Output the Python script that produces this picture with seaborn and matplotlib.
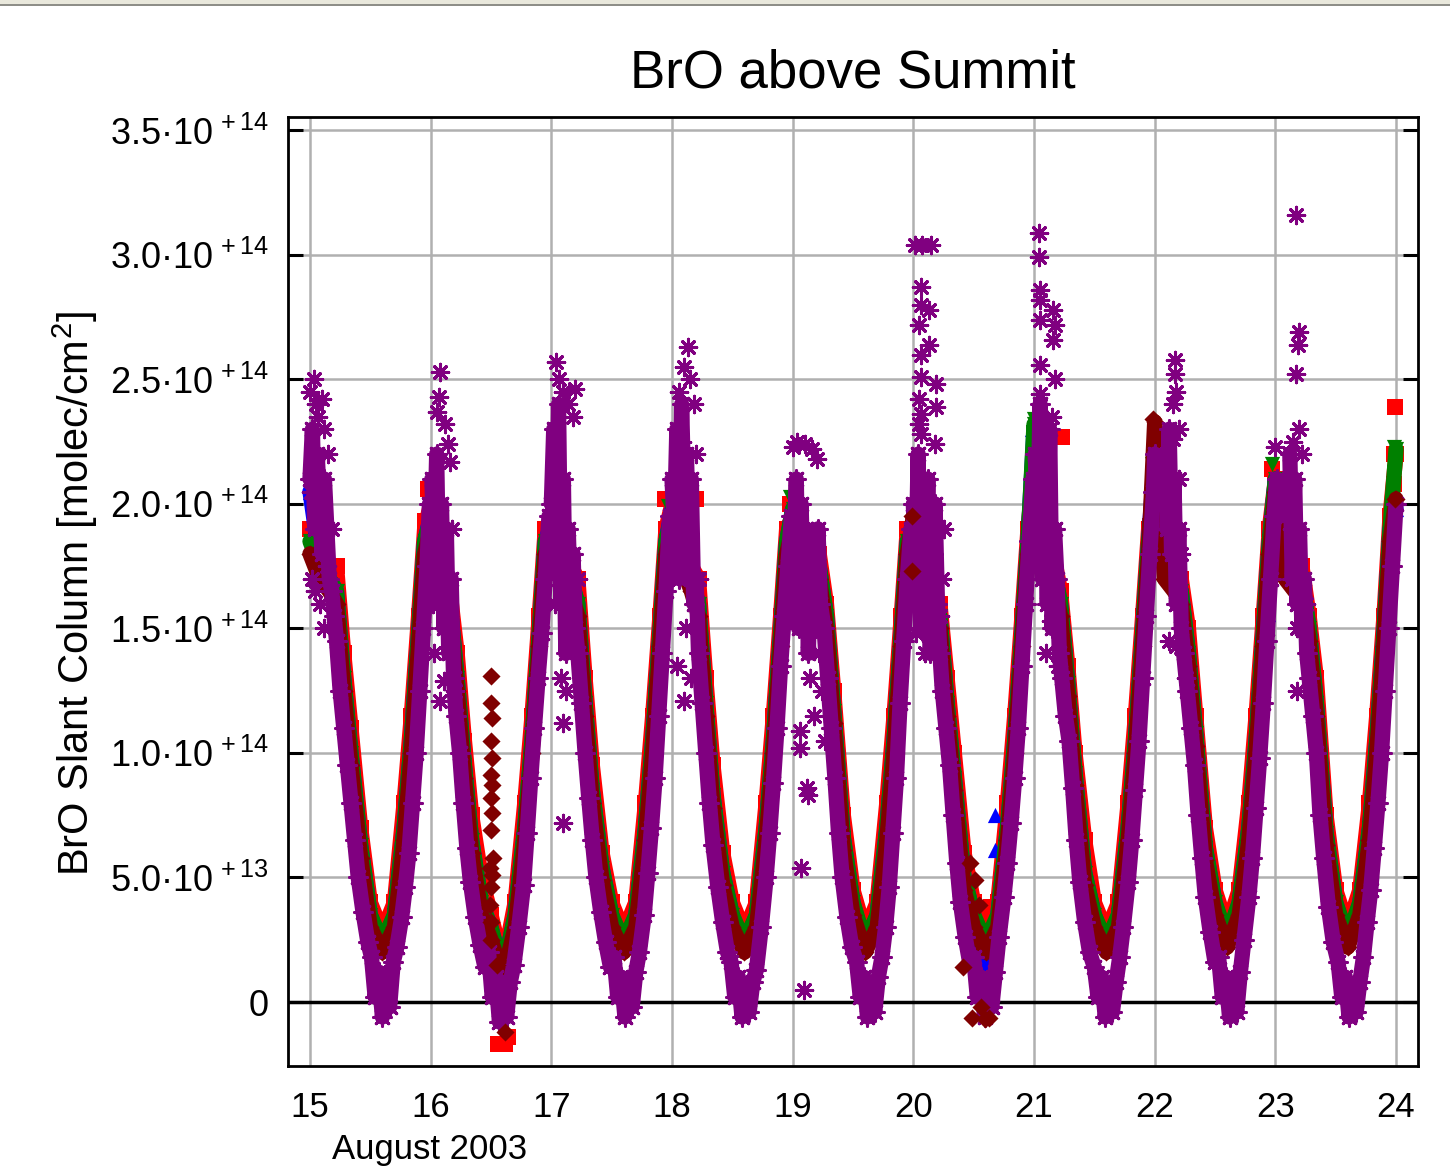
import matplotlib
matplotlib.use('Agg')
import matplotlib.pyplot as plt
from matplotlib.patches import Rectangle
import pandas as pd
import seaborn as sns

# slant columns in units of 1e13 molec/cm2, time in days of August 2003
purple_aug15 = [(15.00, 21), (15.02, 23), (15.04, 19), (15.06, 22), (15.08, 20), (15.10, 18), (15.12, 21),
                (15.14, 19), (15.16, 17), (15.18, 16.5), (15.20, 15.5), (15.22, 14.5), (15.25, 12.5), (15.28, 11),
                (15.31, 9.5), (15.34, 8), (15.37, 6.5), (15.40, 5), (15.44, 3.6), (15.48, 2.4), (15.51, 1.8),
                (15.54, 0.2), (15.57, 1.2), (15.60, -0.6), (15.63, 0.6), (15.66, -0.2), (15.69, 1.6), (15.72, 2.2),
                (15.76, 3.4), (15.79, 4.6), (15.82, 6), (15.85, 8), (15.88, 10), (15.91, 12.5), (15.94, 15),
                (15.97, 17.5), (15.99, 20)]
purple_aug16 = [(16.01, 21), (16.03, 18), (16.05, 22), (16.07, 16), (16.09, 20), (16.11, 15), (16.13, 19),
                (16.15, 14), (16.17, 17), (16.19, 13), (16.21, 11.5), (16.24, 10), (16.27, 8), (16.30, 6.2),
                (16.33, 4.8), (16.37, 3.4), (16.41, 2.3), (16.45, 1.4), (16.48, 2.0), (16.51, 0.2), (16.54, 1.0),
                (16.57, -0.8), (16.60, 0.6), (16.63, -0.6), (16.66, 0.8), (16.69, 1.5), (16.73, 3), (16.77, 4.7),
                (16.80, 6.8), (16.83, 9), (16.86, 11), (16.89, 13), (16.92, 14.8), (16.95, 17), (16.98, 19.5)]
purple_aug17 = [(17.00, 20), (17.02, 23), (17.04, 18), (17.06, 24), (17.08, 16), (17.10, 21), (17.12, 14),
                (17.14, 19), (17.16, 16), (17.18, 18), (17.20, 15), (17.22, 14), (17.25, 12), (17.28, 10),
                (17.31, 8.2), (17.34, 6.5), (17.37, 5), (17.41, 3.6), (17.45, 2.4), (17.49, 1.4), (17.52, 1.8),
                (17.55, 0.2), (17.58, 1.0), (17.61, -0.6), (17.64, 0.6), (17.67, -0.2), (17.70, 1.2), (17.73, 2),
                (17.77, 3.5), (17.80, 5.2), (17.83, 7), (17.86, 9), (17.89, 11.5), (17.92, 14), (17.95, 16.5),
                (17.98, 19.5)]
purple_aug18 = [(18.00, 21), (18.02, 19), (18.04, 23), (18.06, 17), (18.08, 24), (18.10, 20), (18.12, 22),
                (18.14, 18), (18.16, 21), (18.18, 16), (18.20, 17), (18.22, 14), (18.25, 12), (18.28, 10),
                (18.31, 8), (18.34, 6.3), (18.38, 4.6), (18.42, 3.2), (18.46, 2), (18.49, 1.6), (18.52, 0.2),
                (18.55, 1.0), (18.58, -0.6), (18.61, 0.6), (18.64, -0.4), (18.67, 0.8), (18.70, 1.3), (18.74, 3),
                (18.78, 5), (18.81, 6.8), (18.84, 8.8), (18.87, 11), (18.90, 13.5), (18.93, 15.5), (18.96, 17.5),
                (18.99, 19.5)]
purple_aug19 = [(19.01, 18), (19.03, 21), (19.05, 15), (19.07, 20), (19.09, 16), (19.11, 19), (19.13, 14),
                (19.15, 18), (19.17, 17), (19.19, 15), (19.21, 19), (19.23, 16), (19.26, 15), (19.29, 13),
                (19.32, 11), (19.35, 9), (19.38, 6.8), (19.41, 5), (19.45, 3.4), (19.49, 2.2), (19.53, 1.6),
                (19.56, 0.2), (19.59, 1.0), (19.62, -0.6), (19.65, 0.6), (19.68, -0.4), (19.71, 1.0), (19.74, 1.8),
                (19.77, 3), (19.80, 4.6), (19.83, 6.8), (19.86, 9), (19.89, 12), (19.92, 14.5), (19.95, 17),
                (19.98, 19)]
purple_aug20 = [(20.00, 20), (20.02, 17), (20.04, 22), (20.06, 15), (20.08, 19), (20.10, 16), (20.12, 21),
                (20.14, 14), (20.16, 18), (20.18, 20), (20.20, 16), (20.22, 14), (20.24, 12.5), (20.27, 11),
                (20.30, 9.5), (20.33, 7.5), (20.36, 5.6), (20.39, 4), (20.43, 2.6), (20.47, 1.5), (20.50, 1.8),
                (20.53, 0.2), (20.56, 1.0), (20.59, -0.6), (20.62, 0.6), (20.65, -0.2), (20.68, 1.2), (20.71, 2.6),
                (20.75, 4.2), (20.78, 5.6), (20.81, 7.2), (20.84, 9), (20.87, 11), (20.90, 13.5), (20.93, 16),
                (20.96, 18.5), (20.99, 21)]
purple_aug21 = [(21.01, 22), (21.03, 19), (21.05, 24), (21.07, 17), (21.09, 21), (21.11, 16), (21.13, 23),
                (21.15, 15), (21.17, 19), (21.19, 17), (21.21, 14), (21.23, 13), (21.26, 11.5), (21.29, 10.5),
                (21.32, 8.6), (21.35, 6.5), (21.38, 4.8), (21.42, 3.2), (21.46, 2), (21.50, 1.4), (21.53, 0.2),
                (21.56, 1.0), (21.59, -0.6), (21.62, 0.6), (21.65, -0.4), (21.68, 0.8), (21.71, 1.8), (21.74, 3),
                (21.78, 4.8), (21.81, 6.5), (21.84, 8.5), (21.87, 10.5), (21.90, 13), (21.93, 15.5), (21.96, 18),
                (21.99, 20.5), (22.00, 22), (22.02, 20)]
purple_aug22 = [(22.10, 19), (22.12, 23), (22.14, 18), (22.16, 21), (22.18, 16), (22.20, 19), (22.22, 15),
                (22.24, 14), (22.27, 12.5), (22.30, 11), (22.33, 9.5), (22.36, 7.5), (22.39, 5.8), (22.42, 4.2),
                (22.46, 2.8), (22.50, 1.6), (22.53, 1.8), (22.56, 0.2), (22.59, 1.0), (22.62, -0.6), (22.65, 0.6),
                (22.68, -0.4), (22.71, 1.2), (22.74, 2.5), (22.78, 4.2), (22.81, 5.8), (22.84, 7.8), (22.87, 9.8),
                (22.90, 12), (22.93, 14.5), (22.96, 17), (22.99, 19.5), (23.01, 21), (23.03, 19.5)]
purple_aug23 = [(23.12, 22), (23.14, 17), (23.16, 21), (23.18, 16), (23.20, 19), (23.22, 15), (23.24, 17),
                (23.26, 14), (23.28, 13), (23.31, 11.5), (23.34, 10), (23.37, 7.5), (23.40, 5.8), (23.44, 3.8),
                (23.48, 2.4), (23.52, 1.6), (23.55, 0.2), (23.58, 1.0), (23.61, -0.6), (23.64, 0.6), (23.67, -0.4),
                (23.70, 0.8), (23.73, 1.8), (23.76, 3.2), (23.79, 4.5), (23.82, 6.2), (23.85, 8), (23.88, 10),
                (23.91, 12.5), (23.94, 15), (23.97, 17.5), (24.00, 20)]
purple_outliers = [(15.00, 24.5), (15.03, 25), (15.05, 24), (15.07, 23.5), (15.02, 17), (15.04, 16.5), (15.10, 24.2),
                   (15.12, 23), (15.14, 17.5), (15.15, 22), (15.18, 19), (15.01, 20.5), (15.08, 16), (15.12, 15),
                   (16.08, 25.3), (16.07, 24.3), (16.05, 23.7), (16.12, 23.2), (16.14, 22.4), (16.16, 21.7),
                   (16.11, 12.9), (16.08, 12.1), (16.03, 14), (16.14, 14), (16.20, 12.5), (16.18, 19), (16.02, 16),
                   (17.04, 25.7), (17.06, 25), (17.10, 24.5), (17.14, 24), (17.18, 23.5), (17.20, 24.6), (17.02, 23),
                   (17.08, 13), (17.12, 12.5), (17.10, 11.2), (17.10, 7.2), (17.16, 14.5), (17.22, 17), (17.03, 16),
                   (18.13, 26.3), (18.10, 25.5), (18.15, 25), (18.06, 24.5), (18.18, 24), (18.08, 22.5),
                   (18.20, 22), (18.10, 12.1), (18.04, 13.5), (18.16, 13), (18.22, 17), (18.12, 15),
                   (19.00, 22.3), (19.04, 22.5), (19.10, 22.4), (19.16, 22.2), (19.20, 21.8), (19.06, 10.9),
                   (19.06, 10.2), (19.12, 8.6), (19.13, 8.3), (19.07, 5.4), (19.09, 0.5), (19.14, 13), (19.18, 11.5),
                   (19.22, 14), (19.24, 12.5), (19.27, 10.5),
                   (20.01, 30.4), (20.07, 30.4), (20.15, 30.4), (20.06, 28.7), (20.06, 28), (20.13, 27.8),
                   (20.05, 27.2), (20.13, 26.4), (20.06, 26), (20.06, 25.1), (20.19, 24.8), (20.05, 24.2),
                   (20.19, 23.9), (20.06, 23.6), (20.05, 23.2), (20.06, 22.8), (20.06, 20.5), (20.18, 22.4),
                   (20.10, 14), (20.15, 14.5), (20.22, 15.5), (20.25, 19), (20.24, 17), (20.02, 14.8),
                   (21.04, 30.9), (21.04, 29.9), (21.05, 28.6), (21.05, 28.2), (21.16, 27.8), (21.05, 27.4),
                   (21.17, 27.2), (21.16, 26.6), (21.05, 25.6), (21.17, 25), (21.05, 24.4), (21.15, 23.5),
                   (21.10, 14), (21.14, 15.3), (21.17, 16.9), (21.20, 13.5), (21.08, 21),
                   (22.17, 25.8), (22.17, 25.2), (22.18, 24.5), (22.15, 24), (22.15, 22.6), (22.20, 21),
                   (22.22, 18), (22.12, 14.5), (22.18, 14.3), (22.26, 13), (22.20, 23),
                   (23.17, 31.6), (23.20, 26.9), (23.19, 26.4), (23.17, 25.2), (23.18, 15), (23.18, 12.5),
                   (23.15, 22.5), (23.20, 23), (23.22, 22), (23.14, 19), (23.25, 16), (23.00, 22.3)]

# the other four elevation series share one time grid
aux_t = [15.00, 15.08, 15.16, 15.22, 15.28, 15.34, 15.42, 15.50, 15.60, 15.70, 15.78, 15.84, 15.90, 15.95,
         16.00, 16.08, 16.16, 16.22, 16.28, 16.34, 16.42, 16.50, 16.60, 16.70, 16.78, 16.84, 16.90, 16.95,
         17.00, 17.08, 17.16, 17.22, 17.28, 17.34, 17.42, 17.50, 17.60, 17.70, 17.78, 17.84, 17.90, 17.95,
         18.00, 18.08, 18.16, 18.22, 18.28, 18.34, 18.42, 18.50, 18.60, 18.70, 18.78, 18.84, 18.90, 18.95,
         19.00, 19.08, 19.16, 19.22, 19.28, 19.34, 19.42, 19.50, 19.60, 19.70, 19.78, 19.84, 19.90, 19.95,
         20.00, 20.08, 20.16, 20.22, 20.28, 20.34, 20.42, 20.50, 20.60, 20.70, 20.78, 20.84, 20.90, 20.95,
         21.00, 21.08, 21.16, 21.22, 21.28, 21.34, 21.42, 21.50, 21.60, 21.70, 21.78, 21.84, 21.90, 21.95,
         22.00, 22.08, 22.16, 22.22, 22.28, 22.34, 22.42, 22.50, 22.60, 22.70, 22.78, 22.84, 22.90, 22.95,
         23.00, 23.08, 23.16, 23.22, 23.28, 23.34, 23.42, 23.50, 23.60, 23.70, 23.78, 23.84, 23.90, 23.95,
         24.00]
red_v = [19, 18, 17.5, 17.5, 14, 11, 7, 4, 2.8, 4, 8, 11.5, 15.5, 19,
         20, 18, 16.5, 14, 10.5, 7.5, 5, 3.5, 1.5, 4, 8, 11.5, 15.5, 19,
         19, 18, 17.5, 17, 13, 9.5, 6, 4, 2.8, 4, 8, 11.5, 15.5, 19,
         20, 18.5, 17.5, 17, 13, 9.5, 6, 4, 2.8, 4, 8, 11.5, 15.5, 19,
         19.5, 18, 17.5, 18, 16, 12.5, 7.5, 4.5, 2.8, 4, 8, 11.5, 15.5, 19,
         18, 17, 16.5, 16, 13, 10, 6, 4, 2.8, 4, 8, 11.5, 15.5, 19,
         21.5, 20, 18, 16.5, 13.5, 10, 6.5, 4, 2.8, 4, 8, 11.5, 15.5, 19,
         19.5, 18, 17.5, 17, 15, 11.5, 7, 4.5, 3, 4.5, 8, 11.5, 15.5, 19,
         21, 18, 17.5, 17.5, 15.5, 13, 7.5, 4.5, 3, 4.5, 8, 11.5, 15.5, 19.5,
         22]
blue_v = [20.5, 17.8, 17, 16.5, 13, 10, 6.3, 3.5, 2.2, 3.5, 7, 10.5, 14.8, 18.5,
          19.5, 17.8, 16, 13, 9.5, 6.5, 4, 3, 1.2, 3.5, 7, 10.5, 14.8, 18.5,
          19.2, 17.8, 17, 16, 12, 8.5, 5.4, 3.5, 2.2, 3.5, 7, 10.5, 14.8, 18.5,
          19.8, 18.2, 17, 16, 12, 8.3, 5.2, 3.5, 2.2, 3.5, 7, 10.5, 14.8, 18.5,
          19.8, 17.8, 17, 17.5, 15.5, 11.7, 6.6, 4, 2.2, 3.5, 7, 10.5, 14.8, 18.5,
          18.5, 16.8, 16, 15.5, 12, 9, 5, 3.5, 1.0, 3.5, 7, 10.5, 14.8, 18.5,
          23, 19.8, 17.5, 16, 12.8, 9.2, 5.2, 3.5, 2.2, 3.5, 7, 10.5, 14.8, 18.5,
          22, 17.8, 17, 16.5, 14, 10.8, 6.2, 4, 2.4, 4, 7, 10.5, 14.8, 18.5,
          21, 17.8, 17, 17, 15, 12, 6.8, 4, 2.4, 4, 7, 10.5, 14.8, 19,
          19.8]
green_v = [18.5, 17.5, 17, 16.5, 13, 10, 6.3, 3.5, 2.4, 3.5, 7, 10.5, 14.8, 18.5,
           19.4, 17.5, 16, 13, 9.5, 6.5, 4, 3, 1.2, 3.5, 7, 10.5, 14.8, 18.5,
           18.6, 17.5, 17, 16, 12, 8.5, 5.4, 3.5, 2.4, 3.5, 7, 10.5, 14.8, 18.5,
           19.6, 18, 17, 16, 12, 8.3, 5.2, 3.5, 2.4, 3.5, 7, 10.5, 14.8, 18.5,
           19.8, 17.5, 17, 17.5, 15.5, 11.7, 6.6, 4, 2.4, 3.5, 7, 10.5, 14.8, 18.5,
           18.4, 16.5, 16, 15.5, 12, 9, 5, 3.5, 2.4, 3.5, 7, 10.5, 14.8, 18.5,
           23.2, 19.5, 17.5, 16, 12.8, 9.2, 5.2, 3.5, 2.4, 3.5, 7, 10.5, 14.8, 18.5,
           21.4, 17.5, 17, 16.5, 14, 10.8, 6.2, 4, 2.6, 4, 7, 10.5, 14.8, 18.5,
           21, 17.5, 17, 17, 15, 12, 6.8, 4, 2.6, 4, 7, 10.5, 14.8, 19,
           22.2]
darkred_v = [18, 17, 16.5, 16, 12.5, 9.5, 5.8, 3, 2.0, 3, 6.5, 10, 14.3, 18,
             19, 17, 15.5, 12.5, 9, 6, 3.5, 2.5, 1.0, 3, 6.5, 10, 14.3, 18,
             18, 17, 16.5, 15.5, 11.5, 8, 4.9, 3, 2.0, 3, 6.5, 10, 14.3, 18,
             19, 17.5, 16.5, 15.5, 11.5, 7.8, 4.7, 3, 2.0, 3, 6.5, 10, 14.3, 18,
             19, 17, 16.5, 17, 15, 11.2, 6.1, 3.5, 2.0, 3, 6.5, 10, 14.3, 18,
             19.5, 16, 15.5, 15, 11.5, 8.5, 4.5, 3, 2.0, 3, 6.5, 10, 14.3, 18,
             20, 19, 17, 15.5, 12.3, 8.7, 4.7, 3, 2.0, 3, 6.5, 10, 14.3, 18,
             23.3, 17, 16.5, 16, 13.5, 10.3, 5.7, 3.5, 2.2, 3.5, 6.5, 10, 14.3, 18,
             20.5, 17, 16.5, 16.5, 14.5, 11.5, 6.3, 3.5, 2.2, 3.5, 6.5, 10, 14.3, 18.5,
             20.2]
red_outliers = [(15.98, 20.6), (15.95, 19.3), (16.97, 18.7), (17.94, 20.2), (18.20, 20.2), (18.98, 20),
                (19.99, 17.5), (19.98, 16.5), (21.01, 21.7), (21.23, 22.7), (21.96, 19.1), (22.97, 21.4),
                (22.94, 17.5), (23.99, 23.9), (23.98, 22), (23.98, 20.8), (20.64, 3.8), (20.62, 2.0),
                (16.56, -1.7), (16.62, -1.7), (16.64, -1.4)]
green_outliers = [(21.00, 23.4), (19.99, 18.6), (17.97, 19.9), (18.98, 20.3), (21.98, 21.6), (23.98, 22.3),
                  (23.98, 21.3), (15.97, 18.5), (22.97, 21.6)]
blue_outliers = [(16.99, 19.3), (16.99, 18.0), (19.99, 18.3), (19.99, 17.0), (20.98, 23.0), (20.68, 7.5),
                 (20.68, 6.1), (21.99, 22.1), (22.94, 15.6), (23.99, 19.8), (20.52, 0.8), (18.97, 19.5)]
darkred_outliers = [(16.50, 13.1), (16.50, 12.0), (16.51, 11.4), (16.50, 10.5), (16.51, 9.8), (16.50, 9.1),
                    (16.51, 8.7), (16.50, 8.2), (16.51, 7.6), (16.50, 6.9), (16.52, 5.8), (16.49, 5.4),
                    (16.51, 5.1), (16.50, 4.6), (16.49, 3.9), (16.50, 3.2), (16.50, 2.5), (16.55, 1.5),
                    (16.62, -1.2), (20.47, 5.6), (20.51, 4.9), (20.54, 3.9), (20.41, 1.4), (20.49, -0.65),
                    (20.59, -0.7), (20.63, -0.65), (20.56, -0.2), (19.99, 19.5), (19.99, 17.3), (21.99, 23.4),
                    (23.99, 20.2)]

xticks = [15, 16, 17, 18, 19, 20, 21, 22, 23, 24]
yticks = [0, 0.5e14, 1.0e14, 1.5e14, 2.0e14, 2.5e14, 3.0e14, 3.5e14]
ytick_labels = ['0', '5.0·10$^{\\,+13}$', '1.0·10$^{\\,+14}$', '1.5·10$^{\\,+14}$', '2.0·10$^{\\,+14}$',
                '2.5·10$^{\\,+14}$', '3.0·10$^{\\,+14}$', '3.5·10$^{\\,+14}$']

PURPLE, RED, GREEN, BLUE, DARKRED = '#800080', '#ff0000', '#008000', '#0000ff', '#800000'

sns.set_theme(style='white')
plt.rcParams['font.family'] = ['Liberation Sans', 'DejaVu Sans']
plt.rcParams['mathtext.fontset'] = 'custom'
plt.rcParams['mathtext.rm'] = 'Liberation Sans'
plt.rcParams['mathtext.it'] = 'Liberation Sans'

fig = plt.figure(figsize=(14.5, 11.69), dpi=100)
ax = fig.add_axes([288 / 1450, 1 - 1066 / 1169, 1130 / 1450, 949 / 1169])


def frame(points):
    d = pd.DataFrame(points, columns=['t', 'v'])
    d['v'] = d['v'] * 1e13
    return d


aux = pd.DataFrame({'t': aux_t, 'red': red_v, 'blue': blue_v, 'green': green_v, 'darkred': darkred_v})
for col in ['red', 'blue', 'green', 'darkred']:
    aux[col] = aux[col] * 1e13

styles = [('red', RED, 's', 120, red_outliers, 2),
          ('blue', BLUE, '^', 120, blue_outliers, 3),
          ('green', GREEN, 'v', 120, green_outliers, 4),
          ('darkred', DARKRED, 'D', 85, darkred_outliers, 5)]
for col, color, marker, size, extra, z in styles:
    sns.lineplot(data=aux, x='t', y=col, sort=False, estimator=None, color=color, lw=11,
                 solid_capstyle='round', solid_joinstyle='round', ax=ax, zorder=z)
    sns.scatterplot(data=aux, x='t', y=col, marker=marker, s=size, color=color, linewidth=0, ax=ax, zorder=z)
    sns.scatterplot(data=frame(extra), x='t', y='v', marker=marker, s=size, color=color, linewidth=0,
                    ax=ax, zorder=z + 0.5 if col != 'darkred' else 8)

for day in [purple_aug15, purple_aug16, purple_aug17, purple_aug18, purple_aug19,
            purple_aug20, purple_aug21, purple_aug22, purple_aug23]:
    d = frame(day)
    sns.lineplot(data=d, x='t', y='v', sort=False, estimator=None, color=PURPLE, lw=11,
                 solid_capstyle='round', solid_joinstyle='round', ax=ax, zorder=6)
    sns.scatterplot(data=d, x='t', y='v', marker=(8, 2, 0), s=160, color=PURPLE, edgecolor=PURPLE,
                    linewidth=2.2, ax=ax, zorder=7)
sns.scatterplot(data=frame(purple_outliers), x='t', y='v', marker=(8, 2, 0), s=140, color=PURPLE,
                edgecolor=PURPLE, linewidth=2.2, ax=ax, zorder=7)

ax.axhline(0, color='black', lw=2.5, zorder=1)
ax.set_xlim(14.818, 24.182)
ax.set_ylim(-0.257e14, 3.554e14)
ax.set_xticks(xticks)
ax.set_xticklabels([str(x) for x in xticks], fontsize=25)
ax.set_yticks(yticks)
ax.set_yticklabels(ytick_labels, fontsize=26)
ax.set_xlabel('')
ax.set_ylabel('')
ax.grid(True, color='#b0b0b0', lw=1.8)
ax.set_axisbelow(True)
ax.tick_params(axis='y', direction='in', length=11, width=2.2, left=True, right=True, pad=14, colors='black')
ax.tick_params(axis='x', length=0, pad=18, colors='black')
for s in ax.spines.values():
    s.set_color('black')
    s.set_linewidth(2)

fig.text(853 / 1450, 1 - 88 / 1169, 'BrO above Summit', ha='center', va='baseline', fontsize=38,
         color='black')
fig.text(75 / 1450, 1 - 593 / 1169, 'BrO Slant Column [molec/cm$^2$]', rotation=90, ha='center',
         va='center', fontsize=30, color='black')
fig.text(430 / 1450, 10 / 1169, 'August 2003', ha='center', va='baseline', fontsize=25, color='black')

fig.patches.append(Rectangle((0, 1 - 4 / 1169), 1, 4 / 1169, transform=fig.transFigure,
                             facecolor='#e9e8dc', edgecolor='none'))
fig.patches.append(Rectangle((0, 1 - 6 / 1169), 1, 2 / 1169, transform=fig.transFigure,
                             facecolor='#8e8e88', edgecolor='none'))

fig.savefig('out.png', dpi=100)
